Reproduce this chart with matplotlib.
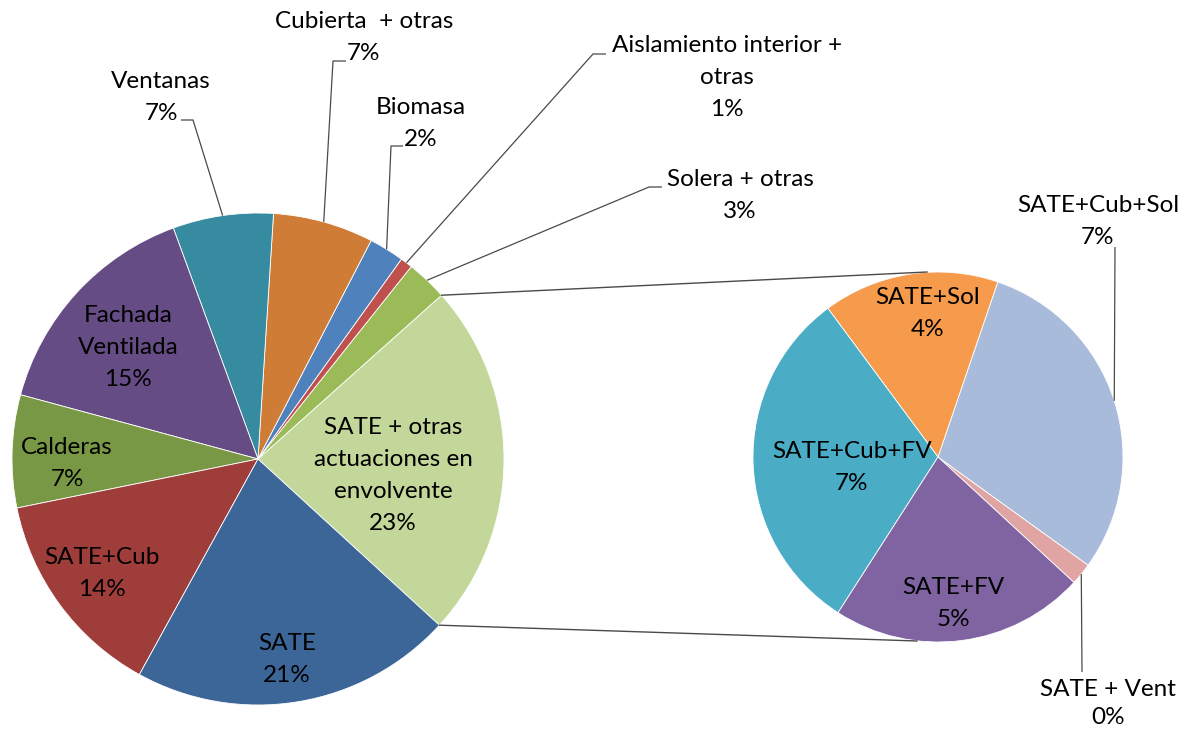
import matplotlib
matplotlib.use("Agg")
import matplotlib.pyplot as plt
import numpy as np

# ---------------- data ----------------
main_categories = ["SATE + otras actuaciones en envolvente", "Solera + otras",
                   "Aislamiento interior + otras", "Biomasa", "Cubierta  + otras",
                   "Ventanas", "Fachada Ventilada", "Calderas", "SATE+Cub", "SATE"]
main_values = [23.4, 2.7, 0.8, 2.3, 6.6, 6.6, 15.2, 7.4, 13.8, 21.2]

sub_categories = ["SATE + Vent", "SATE+Cub+Sol", "SATE+Sol", "SATE+Cub+FV", "SATE+FV"]
sub_values = [0.45, 6.95, 3.6, 7.2, 5.2]

main_colors = ["#C4D79B", "#9BBB59", "#C0504D", "#4F81BD", "#CF7C37",
               "#378BA1", "#654C84", "#799845", "#9E3D3A", "#3D6698"]
sub_colors = ["#E0A5A3", "#A9BBDA", "#F69A4C", "#4BACC6", "#8064A2"]

# ---------------- layout ----------------
W, H = 1178, 732
FONT = ["Lato", "DejaVu Sans"]
FS = 17.5
LINE = 32
LEADER = "#4A4A4A"

def P(x, y):
    return (x, H - y)

MAIN_C, MAIN_R, MAIN_START = (258, 459), 246, -42.5
SUB_C, SUB_R, SUB_START = (938, 457), 185, -42.7

# label text lines, centre x, first-line y, leader elbow points, line spacing
label_layout = {
    "SATE + otras actuaciones en envolvente": (["SATE + otras", "actuaciones en", "envolvente"], 393, 427, None, LINE),
    "Solera + otras": (["Solera + otras"], 740, 179, [(649, 187), (662, 187)], LINE),
    "Aislamiento interior + otras": (["Aislamiento interior +", "otras"], 727, 46, [(593, 54), (606, 54)], LINE),
    "Biomasa": (["Biomasa"], 421, 107, [(391, 146), (403, 146)], LINE),
    "Cubierta  + otras": (["Cubierta  + otras"], 364, 22, [(333, 61), (346, 61)], LINE),
    "Ventanas": (["Ventanas"], 161, 81, [(193, 120), (181, 120)], LINE),
    "Fachada Ventilada": (["Fachada", "Ventilada"], 128, 315, None, LINE),
    "Calderas": (["Calderas"], 67, 447, None, LINE),
    "SATE+Cub": (["SATE+Cub"], 102, 558, None, LINE),
    "SATE": (["SATE"], 287, 643, None, LINE),
    "SATE + Vent": (["SATE + Vent"], 1108, 689, [(1082, 672)], 28),
    "SATE+Cub+Sol": (["SATE+Cub+Sol"], 1098, 205, [(1115, 247)], LINE),
    "SATE+Sol": (["SATE+Sol"], 928, 297, None, LINE),
    "SATE+Cub+FV": (["SATE+Cub+FV"], 852, 452, None, LINE),
    "SATE+FV": (["SATE+FV"], 953, 587, None, LINE),
}

fig = plt.figure(figsize=(W / 100, H / 100), dpi=100)
ax = fig.add_axes([0, 0, 1, 1])

wedge_kw = dict(edgecolor="white", linewidth=0.6)
main_wedges, _ = ax.pie(main_values, colors=main_colors, startangle=MAIN_START,
                        counterclock=True, center=P(*MAIN_C), radius=MAIN_R,
                        wedgeprops=wedge_kw, frame=True)
sub_wedges, _ = ax.pie(sub_values, colors=sub_colors, startangle=SUB_START,
                       counterclock=True, center=P(*SUB_C), radius=SUB_R,
                       wedgeprops=wedge_kw, frame=True)

ax.set_xlim(0, W)
ax.set_ylim(0, H)
ax.set_aspect("equal")
ax.axis("off")

total = float(sum(main_values))


def arc_point(wedge, angle=None):
    th = np.deg2rad(angle if angle is not None else (wedge.theta1 + wedge.theta2) / 2)
    cx, cy = wedge.center
    return cx + wedge.r * np.cos(th), cy + wedge.r * np.sin(th)


def put_label(name, value, wedge):
    lines, cx, y0, leader, spacing = label_layout[name]
    lines = lines + [f"{round(value / total * 100):d}%"]
    for i, s in enumerate(lines):
        ax.text(*P(cx, y0 + i * spacing), s, ha="center", va="center",
                fontsize=FS, family=FONT, color="black")
    if leader:
        pts = [arc_point(wedge)] + [P(*p) for p in leader]
        xs, ys = zip(*pts)
        ax.plot(xs, ys, color=LEADER, lw=0.9, solid_capstyle="butt")


for name, v, w in zip(main_categories, main_values, main_wedges):
    put_label(name, v, w)
for name, v, w in zip(sub_categories, sub_values, sub_wedges):
    put_label(name, v, w)

# connector lines between the split slice and the secondary pie
big = main_wedges[0]
p_top = arc_point(big, big.theta2)
p_bot = arc_point(big, big.theta1)
s_top = (SUB_C[0] - 11, H - (SUB_C[1] - SUB_R))
s_bot = (SUB_C[0] - 21, H - (SUB_C[1] + SUB_R) + 1)
ax.plot([p_top[0], s_top[0]], [p_top[1], s_top[1]], color=LEADER, lw=1.0)
ax.plot([p_bot[0], s_bot[0]], [p_bot[1], s_bot[1]], color=LEADER, lw=1.0)

fig.savefig("out.png", dpi=100, facecolor="white")
